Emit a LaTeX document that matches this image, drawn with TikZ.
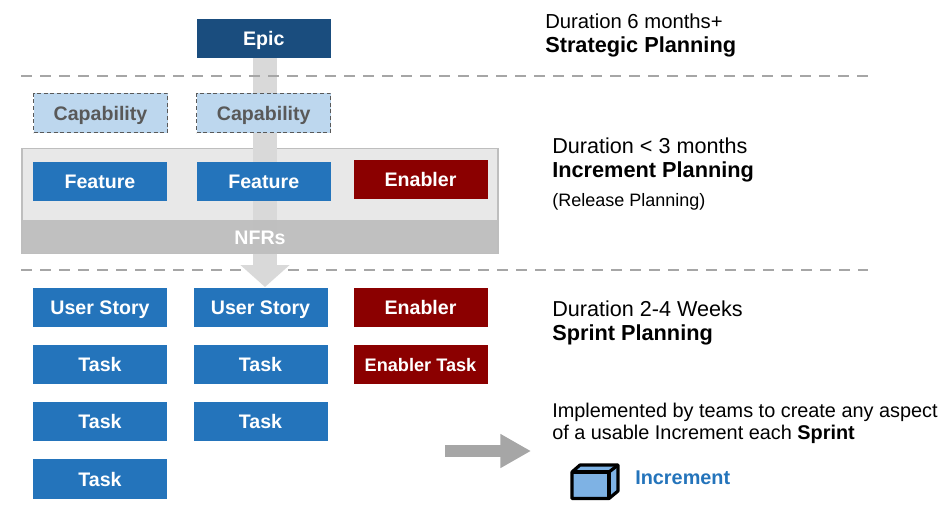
\documentclass[tikz,border=0pt]{standalone}
\usepackage{fontspec}
\setmainfont{Liberation Sans}
\usetikzlibrary{arrows.meta}
\definecolor{epicblue}{HTML}{1A4D7E}
\definecolor{featblue}{HTML}{2474BB}
\definecolor{capblue}{HTML}{BDD7EE}
\definecolor{capgray}{HTML}{595959}
\definecolor{enabred}{HTML}{8B0000}
\definecolor{lightpanel}{HTML}{E8E8E8}
\definecolor{nfrgray}{HTML}{BEBEBE}
\definecolor{shaftgray}{HTML}{D9D9D9}
\definecolor{rulegray}{HTML}{A6A6A6}
\definecolor{cubeblue}{HTML}{7EB2E4}
\newcommand{\pxsize}[1]{\fontsize{#1}{#1}\selectfont}
\tikzset{
  x=0.75pt,y=-0.75pt,
  card/.style={minimum width=100.5pt,minimum height=29.5pt,inner sep=0pt,text=white,font=\pxsize{14.7}\bfseries,text height=10.5pt,text depth=0pt,anchor=center},
  featurecard/.style={card,fill=featblue},
  epiccard/.style={card,fill=epicblue},
  enablercard/.style={card,fill=enabred},
  capcard/.style={card,fill=capblue,text=capgray,draw=capgray,line width=1.1pt,dash pattern=on 3pt off 2pt},
  levelrule/.style={draw=rulegray,line width=1.5pt,dash pattern=on 8pt off 6.25pt},
  note/.style={anchor=west,inner sep=0pt,font=\pxsize{16.2}},
  notebold/.style={anchor=west,inner sep=0pt,font=\pxsize{16.3}\bfseries},
  small/.style={anchor=west,inner sep=0pt,font=\pxsize{13.5}},
  mid/.style={anchor=west,inner sep=0pt,font=\pxsize{14.9}},
}
\begin{document}
\begin{tikzpicture}
\useasboundingbox[fill=white] (0,0) rectangle (948,528);
% panel
\node[draw=nfrgray,fill=lightpanel,line width=1.2pt,minimum width=357pt,minimum height=79pt,inner sep=0pt] (panel) at (260,201) {};
\coordinate (tip) at (265,287);
\node[epiccard] (epic) at (263.75,38.5) {Epic};
\draw[shaftgray,line width=18pt,-{Triangle[length=16.5pt,width=36pt]}] (epic.south -| tip) -- (tip);
\node[fill=nfrgray,minimum width=357pt,minimum height=25pt,inner sep=0pt,text=white,font=\pxsize{14.7}\bfseries,text height=10.5pt,text depth=0pt,opacity=.93,text opacity=1] (nfr) at (260,237) {NFRs};
% rules
\coordinate (r1a) at (21,76); \coordinate (r1b) at (868,76);
\coordinate (r2a) at (21,270); \coordinate (r2b) at (868,270);
\draw[levelrule] (r1a) -- (r1b);
\draw[levelrule] (r2a) -- (241,270);
\draw[levelrule] (288,270) -- (r2b);
% upper cards
\node[capcard] (cap1) at (100.5,113) {Capability};
\node[capcard] (cap2) at (263.75,113) {Capability};
\node[featurecard] (f1) at (100,181.5) {Feature};
\node[featurecard] (f2) at (263.75,181.5) {Feature};
\node[enablercard] (en1) at (420.5,179.5) {Enabler};
% lower cards
\node[featurecard] (us1) at (100,307.5) {User Story};
\node[featurecard] (us2) at (260.5,307.5) {User Story};
\node[enablercard] (en2) at (420.5,307.5) {Enabler};
\node[featurecard] (t1) at (100,364.5) {Task};
\node[featurecard] (t2) at (260.5,364.5) {Task};
\node[enablercard,font=\pxsize{13.6}\bfseries] (et) at (420.5,364.5) {Enabler Task};
\node[featurecard] (t3) at (100,421.5) {Task};
\node[featurecard] (t4) at (260.5,421.5) {Task};
\node[featurecard] (t5) at (100,479) {Task};
% notes
\node[note,font=\pxsize{15.2}] (n1) at (545,21) {Duration 6 months+};
\node[notebold] (n2) at (545,47) {Strategic Planning};
\node[note] (n3) at (552,146) {Duration < 3 months};
\node[notebold] (n4) at (552,172) {Increment Planning};
\node[small] (n5) at (552,202) {(Release Planning)};
\node[note] (n6) at (552,309) {Duration 2-4 Weeks};
\node[notebold] (n7) at (552,335) {Sprint Planning};
\node[mid] (n8) at (552,412) {Implemented by teams to create any aspect};
\node[mid] (n9) at (552,434) {of a usable Increment each \textbf{Sprint}};
% gray arrow
\coordinate (ga) at (445,451); \coordinate (gb) at (531,451);
\draw[rulegray,line width=9pt,-{Triangle[length=23pt,width=24pt]}] (ga) -- (gb);
% cube
\draw[black,fill=cubeblue,line width=2.4pt,line join=round]
  (572,472) -- (580,465) -- (618,465) -- (618,491) -- (609,498.5) -- (572,498.5) -- cycle;
\draw[black,line width=2.4pt,line join=round] (572,472) -- (609,472) -- (609,498.5);
\draw[black,line width=2.4pt,line join=round] (609,472) -- (618,465);
\node[anchor=west,inner sep=0pt,text=featblue,font=\pxsize{14.9}\bfseries] (inc) at (635,478) {Increment};
\end{tikzpicture}
\end{document}
